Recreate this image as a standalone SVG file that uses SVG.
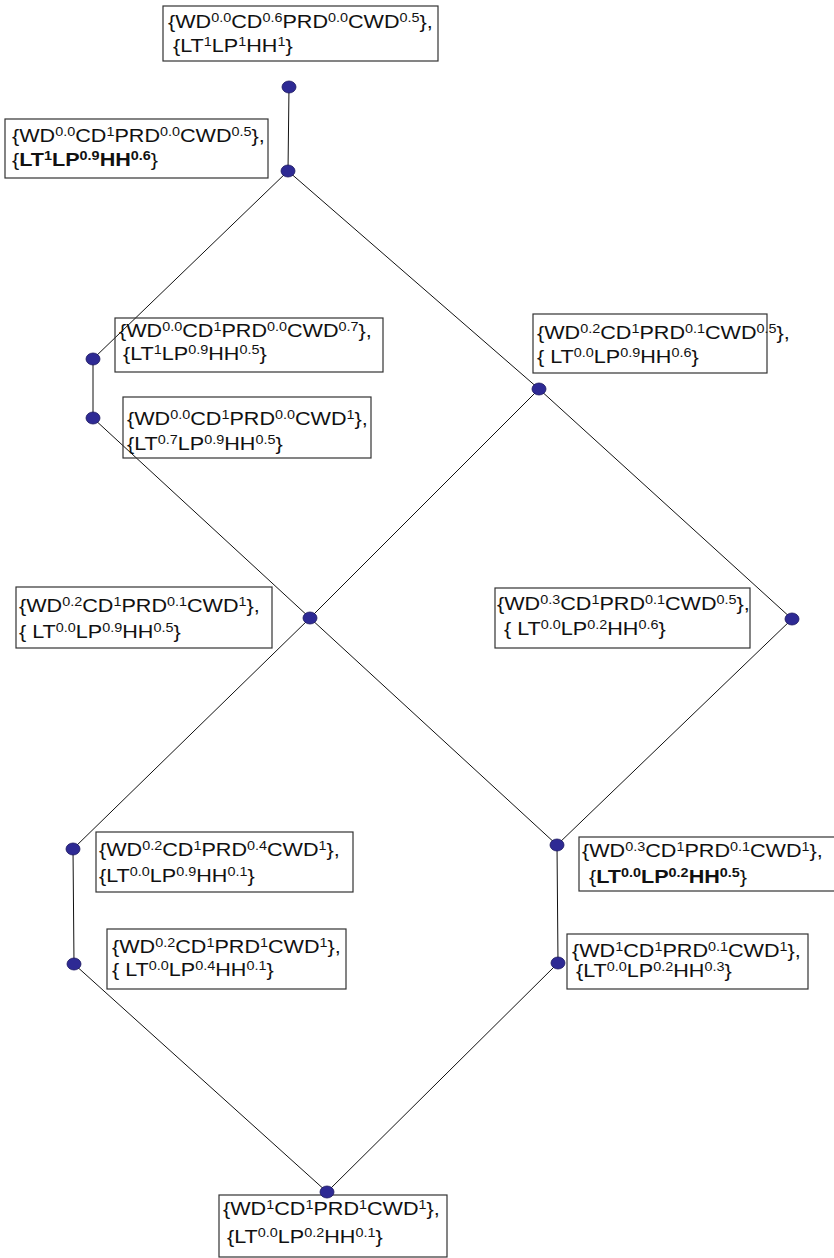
<svg xmlns="http://www.w3.org/2000/svg" width="834" height="1258" viewBox="0 0 834 1258">
<style>
.bg{fill:#fff}
.box{fill:none;stroke:#333;stroke-width:1.2}
.t{font-family:"Liberation Sans",Arial,sans-serif;font-size:18px;fill:#111}
.s{font-size:12px}
.b{font-weight:bold}
.dot{fill:#2e2a94;stroke:#1a1660;stroke-width:0.8}
.ln{stroke:#111;stroke-width:1;fill:none}
</style>
<rect class="bg" x="0" y="0" width="834" height="1258"/>
<g id="connectors">
<line class="ln" x1="289" y1="87" x2="288" y2="171"/>
<line class="ln" x1="288" y1="171" x2="93" y2="359"/>
<line class="ln" x1="288" y1="171" x2="539" y2="389"/>
<line class="ln" x1="93" y1="359" x2="93" y2="418"/>
<line class="ln" x1="93" y1="418" x2="310" y2="618"/>
<line class="ln" x1="539" y1="389" x2="310" y2="618"/>
<line class="ln" x1="539" y1="389" x2="792" y2="619"/>
<line class="ln" x1="310" y1="618" x2="73" y2="849"/>
<line class="ln" x1="310" y1="618" x2="557" y2="845"/>
<line class="ln" x1="792" y1="619" x2="557" y2="845"/>
<line class="ln" x1="73" y1="849" x2="74" y2="964"/>
<line class="ln" x1="557" y1="845" x2="558" y2="963"/>
<line class="ln" x1="74" y1="964" x2="327" y2="1192"/>
<line class="ln" x1="558" y1="963" x2="327" y2="1192"/>
</g>
<g id="n1">
<rect class="box" x="163" y="6" width="275" height="55"/>
<text class="t" transform="matrix(1.2 0 0 1 168 28)">{WD<tspan class="s" dy="-6">0.0</tspan><tspan dy="6">CD</tspan><tspan class="s" dy="-6">0.6</tspan><tspan dy="6">PRD</tspan><tspan class="s" dy="-6">0.0</tspan><tspan dy="6">CWD</tspan><tspan class="s" dy="-6">0.5</tspan><tspan dy="6">},</tspan></text>
<text class="t" transform="matrix(1.2 0 0 1 173 52)">{LT<tspan class="s" dy="-6">1</tspan><tspan dy="6">LP</tspan><tspan class="s" dy="-6">1</tspan><tspan dy="6">HH</tspan><tspan class="s" dy="-6">1</tspan><tspan dy="6">}</tspan></text>
<ellipse class="dot" cx="289" cy="87" rx="7" ry="6"/>
</g>
<g id="n2">
<rect class="box" x="5" y="119" width="263" height="59"/>
<text class="t" transform="matrix(1.2 0 0 1 12 142)">{WD<tspan class="s" dy="-6">0.0</tspan><tspan dy="6">CD</tspan><tspan class="s" dy="-6">1</tspan><tspan dy="6">PRD</tspan><tspan class="s" dy="-6">0.0</tspan><tspan dy="6">CWD</tspan><tspan class="s" dy="-6">0.5</tspan><tspan dy="6">},</tspan></text>
<text class="t" transform="matrix(1.2 0 0 1 12 166)">{<tspan class="b">LT</tspan><tspan class="s b" dy="-6">1</tspan><tspan class="b" dy="6">LP</tspan><tspan class="s b" dy="-6">0.9</tspan><tspan class="b" dy="6">HH</tspan><tspan class="s b" dy="-6">0.6</tspan><tspan dy="6">}</tspan></text>
<ellipse class="dot" cx="288" cy="171" rx="7" ry="6"/>
</g>
<g id="n3">
<rect class="box" x="115" y="318" width="268" height="54"/>
<text class="t" transform="matrix(1.2 0 0 1 119 337)">{WD<tspan class="s" dy="-6">0.0</tspan><tspan dy="6">CD</tspan><tspan class="s" dy="-6">1</tspan><tspan dy="6">PRD</tspan><tspan class="s" dy="-6">0.0</tspan><tspan dy="6">CWD</tspan><tspan class="s" dy="-6">0.7</tspan><tspan dy="6">},</tspan></text>
<text class="t" transform="matrix(1.2 0 0 1 123 360)">{LT<tspan class="s" dy="-6">1</tspan><tspan dy="6">LP</tspan><tspan class="s" dy="-6">0.9</tspan><tspan dy="6">HH</tspan><tspan class="s" dy="-6">0.5</tspan><tspan dy="6">}</tspan></text>
<ellipse class="dot" cx="93" cy="359" rx="7" ry="6"/>
</g>
<g id="n4">
<rect class="box" x="123" y="397" width="248" height="61"/>
<text class="t" transform="matrix(1.2 0 0 1 127 425)">{WD<tspan class="s" dy="-6">0.0</tspan><tspan dy="6">CD</tspan><tspan class="s" dy="-6">1</tspan><tspan dy="6">PRD</tspan><tspan class="s" dy="-6">0.0</tspan><tspan dy="6">CWD</tspan><tspan class="s" dy="-6">1</tspan><tspan dy="6">},</tspan></text>
<text class="t" transform="matrix(1.2 0 0 1 127 450)">{LT<tspan class="s" dy="-6">0.7</tspan><tspan dy="6">LP</tspan><tspan class="s" dy="-6">0.9</tspan><tspan dy="6">HH</tspan><tspan class="s" dy="-6">0.5</tspan><tspan dy="6">}</tspan></text>
<ellipse class="dot" cx="93" cy="418" rx="7" ry="6"/>
</g>
<g id="n5">
<rect class="box" x="533" y="314" width="234" height="59"/>
<text class="t" transform="matrix(1.2 0 0 1 537 339)">{WD<tspan class="s" dy="-6">0.2</tspan><tspan dy="6">CD</tspan><tspan class="s" dy="-6">1</tspan><tspan dy="6">PRD</tspan><tspan class="s" dy="-6">0.1</tspan><tspan dy="6">CWD</tspan><tspan class="s" dy="-6">0.5</tspan><tspan dy="6">},</tspan></text>
<text class="t" transform="matrix(1.2 0 0 1 537 363)">{ LT<tspan class="s" dy="-6">0.0</tspan><tspan dy="6">LP</tspan><tspan class="s" dy="-6">0.9</tspan><tspan dy="6">HH</tspan><tspan class="s" dy="-6">0.6</tspan><tspan dy="6">}</tspan></text>
<ellipse class="dot" cx="539" cy="389" rx="7" ry="6"/>
</g>
<g id="n6">
<rect class="box" x="16" y="587" width="256" height="61"/>
<text class="t" transform="matrix(1.2 0 0 1 19 612)">{WD<tspan class="s" dy="-6">0.2</tspan><tspan dy="6">CD</tspan><tspan class="s" dy="-6">1</tspan><tspan dy="6">PRD</tspan><tspan class="s" dy="-6">0.1</tspan><tspan dy="6">CWD</tspan><tspan class="s" dy="-6">1</tspan><tspan dy="6">},</tspan></text>
<text class="t" transform="matrix(1.2 0 0 1 19 638)">{ LT<tspan class="s" dy="-6">0.0</tspan><tspan dy="6">LP</tspan><tspan class="s" dy="-6">0.9</tspan><tspan dy="6">HH</tspan><tspan class="s" dy="-6">0.5</tspan><tspan dy="6">}</tspan></text>
<ellipse class="dot" cx="310" cy="618" rx="7" ry="6"/>
</g>
<g id="n7">
<rect class="box" x="495" y="588" width="255" height="60"/>
<text class="t" transform="matrix(1.2 0 0 1 497 610)">{WD<tspan class="s" dy="-6">0.3</tspan><tspan dy="6">CD</tspan><tspan class="s" dy="-6">1</tspan><tspan dy="6">PRD</tspan><tspan class="s" dy="-6">0.1</tspan><tspan dy="6">CWD</tspan><tspan class="s" dy="-6">0.5</tspan><tspan dy="6">},</tspan></text>
<text class="t" transform="matrix(1.2 0 0 1 504 635)">{ LT<tspan class="s" dy="-6">0.0</tspan><tspan dy="6">LP</tspan><tspan class="s" dy="-6">0.2</tspan><tspan dy="6">HH</tspan><tspan class="s" dy="-6">0.6</tspan><tspan dy="6">}</tspan></text>
<ellipse class="dot" cx="792" cy="619" rx="7" ry="6"/>
</g>
<g id="n8">
<rect class="box" x="96" y="832" width="257" height="60"/>
<text class="t" transform="matrix(1.2 0 0 1 99 856)">{WD<tspan class="s" dy="-6">0.2</tspan><tspan dy="6">CD</tspan><tspan class="s" dy="-6">1</tspan><tspan dy="6">PRD</tspan><tspan class="s" dy="-6">0.4</tspan><tspan dy="6">CWD</tspan><tspan class="s" dy="-6">1</tspan><tspan dy="6">},</tspan></text>
<text class="t" transform="matrix(1.2 0 0 1 99 882)">{LT<tspan class="s" dy="-6">0.0</tspan><tspan dy="6">LP</tspan><tspan class="s" dy="-6">0.9</tspan><tspan dy="6">HH</tspan><tspan class="s" dy="-6">0.1</tspan><tspan dy="6">}</tspan></text>
<ellipse class="dot" cx="73" cy="849" rx="7" ry="6"/>
</g>
<g id="n9">
<rect class="box" x="107" y="929" width="239" height="60"/>
<text class="t" transform="matrix(1.2 0 0 1 112 953)">{WD<tspan class="s" dy="-6">0.2</tspan><tspan dy="6">CD</tspan><tspan class="s" dy="-6">1</tspan><tspan dy="6">PRD</tspan><tspan class="s" dy="-6">1</tspan><tspan dy="6">CWD</tspan><tspan class="s" dy="-6">1</tspan><tspan dy="6">},</tspan></text>
<text class="t" transform="matrix(1.2 0 0 1 112 976)">{ LT<tspan class="s" dy="-6">0.0</tspan><tspan dy="6">LP</tspan><tspan class="s" dy="-6">0.4</tspan><tspan dy="6">HH</tspan><tspan class="s" dy="-6">0.1</tspan><tspan dy="6">}</tspan></text>
<ellipse class="dot" cx="74" cy="964" rx="7" ry="6"/>
</g>
<g id="n10">
<rect class="box" x="579" y="837" width="260" height="54"/>
<text class="t" transform="matrix(1.2 0 0 1 582 857)">{WD<tspan class="s" dy="-6">0.3</tspan><tspan dy="6">CD</tspan><tspan class="s" dy="-6">1</tspan><tspan dy="6">PRD</tspan><tspan class="s" dy="-6">0.1</tspan><tspan dy="6">CWD</tspan><tspan class="s" dy="-6">1</tspan><tspan dy="6">},</tspan></text>
<text class="t" transform="matrix(1.2 0 0 1 589 883)">{<tspan class="b">LT</tspan><tspan class="s b" dy="-6">0.0</tspan><tspan class="b" dy="6">LP</tspan><tspan class="s b" dy="-6">0.2</tspan><tspan class="b" dy="6">HH</tspan><tspan class="s b" dy="-6">0.5</tspan><tspan dy="6">}</tspan></text>
<ellipse class="dot" cx="557" cy="845" rx="7" ry="6"/>
</g>
<g id="n11">
<rect class="box" x="567" y="934" width="241" height="55"/>
<text class="t" transform="matrix(1.2 0 0 1 572 957)">{WD<tspan class="s" dy="-6">1</tspan><tspan dy="6">CD</tspan><tspan class="s" dy="-6">1</tspan><tspan dy="6">PRD</tspan><tspan class="s" dy="-6">0.1</tspan><tspan dy="6">CWD</tspan><tspan class="s" dy="-6">1</tspan><tspan dy="6">},</tspan></text>
<text class="t" transform="matrix(1.2 0 0 1 576 977)">{LT<tspan class="s" dy="-6">0.0</tspan><tspan dy="6">LP</tspan><tspan class="s" dy="-6">0.2</tspan><tspan dy="6">HH</tspan><tspan class="s" dy="-6">0.3</tspan><tspan dy="6">}</tspan></text>
<ellipse class="dot" cx="558" cy="963" rx="7" ry="6"/>
</g>
<g id="n12">
<rect class="box" x="219" y="1195" width="228" height="62"/>
<text class="t" transform="matrix(1.2 0 0 1 223 1215)">{WD<tspan class="s" dy="-6">1</tspan><tspan dy="6">CD</tspan><tspan class="s" dy="-6">1</tspan><tspan dy="6">PRD</tspan><tspan class="s" dy="-6">1</tspan><tspan dy="6">CWD</tspan><tspan class="s" dy="-6">1</tspan><tspan dy="6">},</tspan></text>
<text class="t" transform="matrix(1.2 0 0 1 227 1243)">{LT<tspan class="s" dy="-6">0.0</tspan><tspan dy="6">LP</tspan><tspan class="s" dy="-6">0.2</tspan><tspan dy="6">HH</tspan><tspan class="s" dy="-6">0.1</tspan><tspan dy="6">}</tspan></text>
<ellipse class="dot" cx="327" cy="1192" rx="7" ry="6"/>
</g>
</svg>
